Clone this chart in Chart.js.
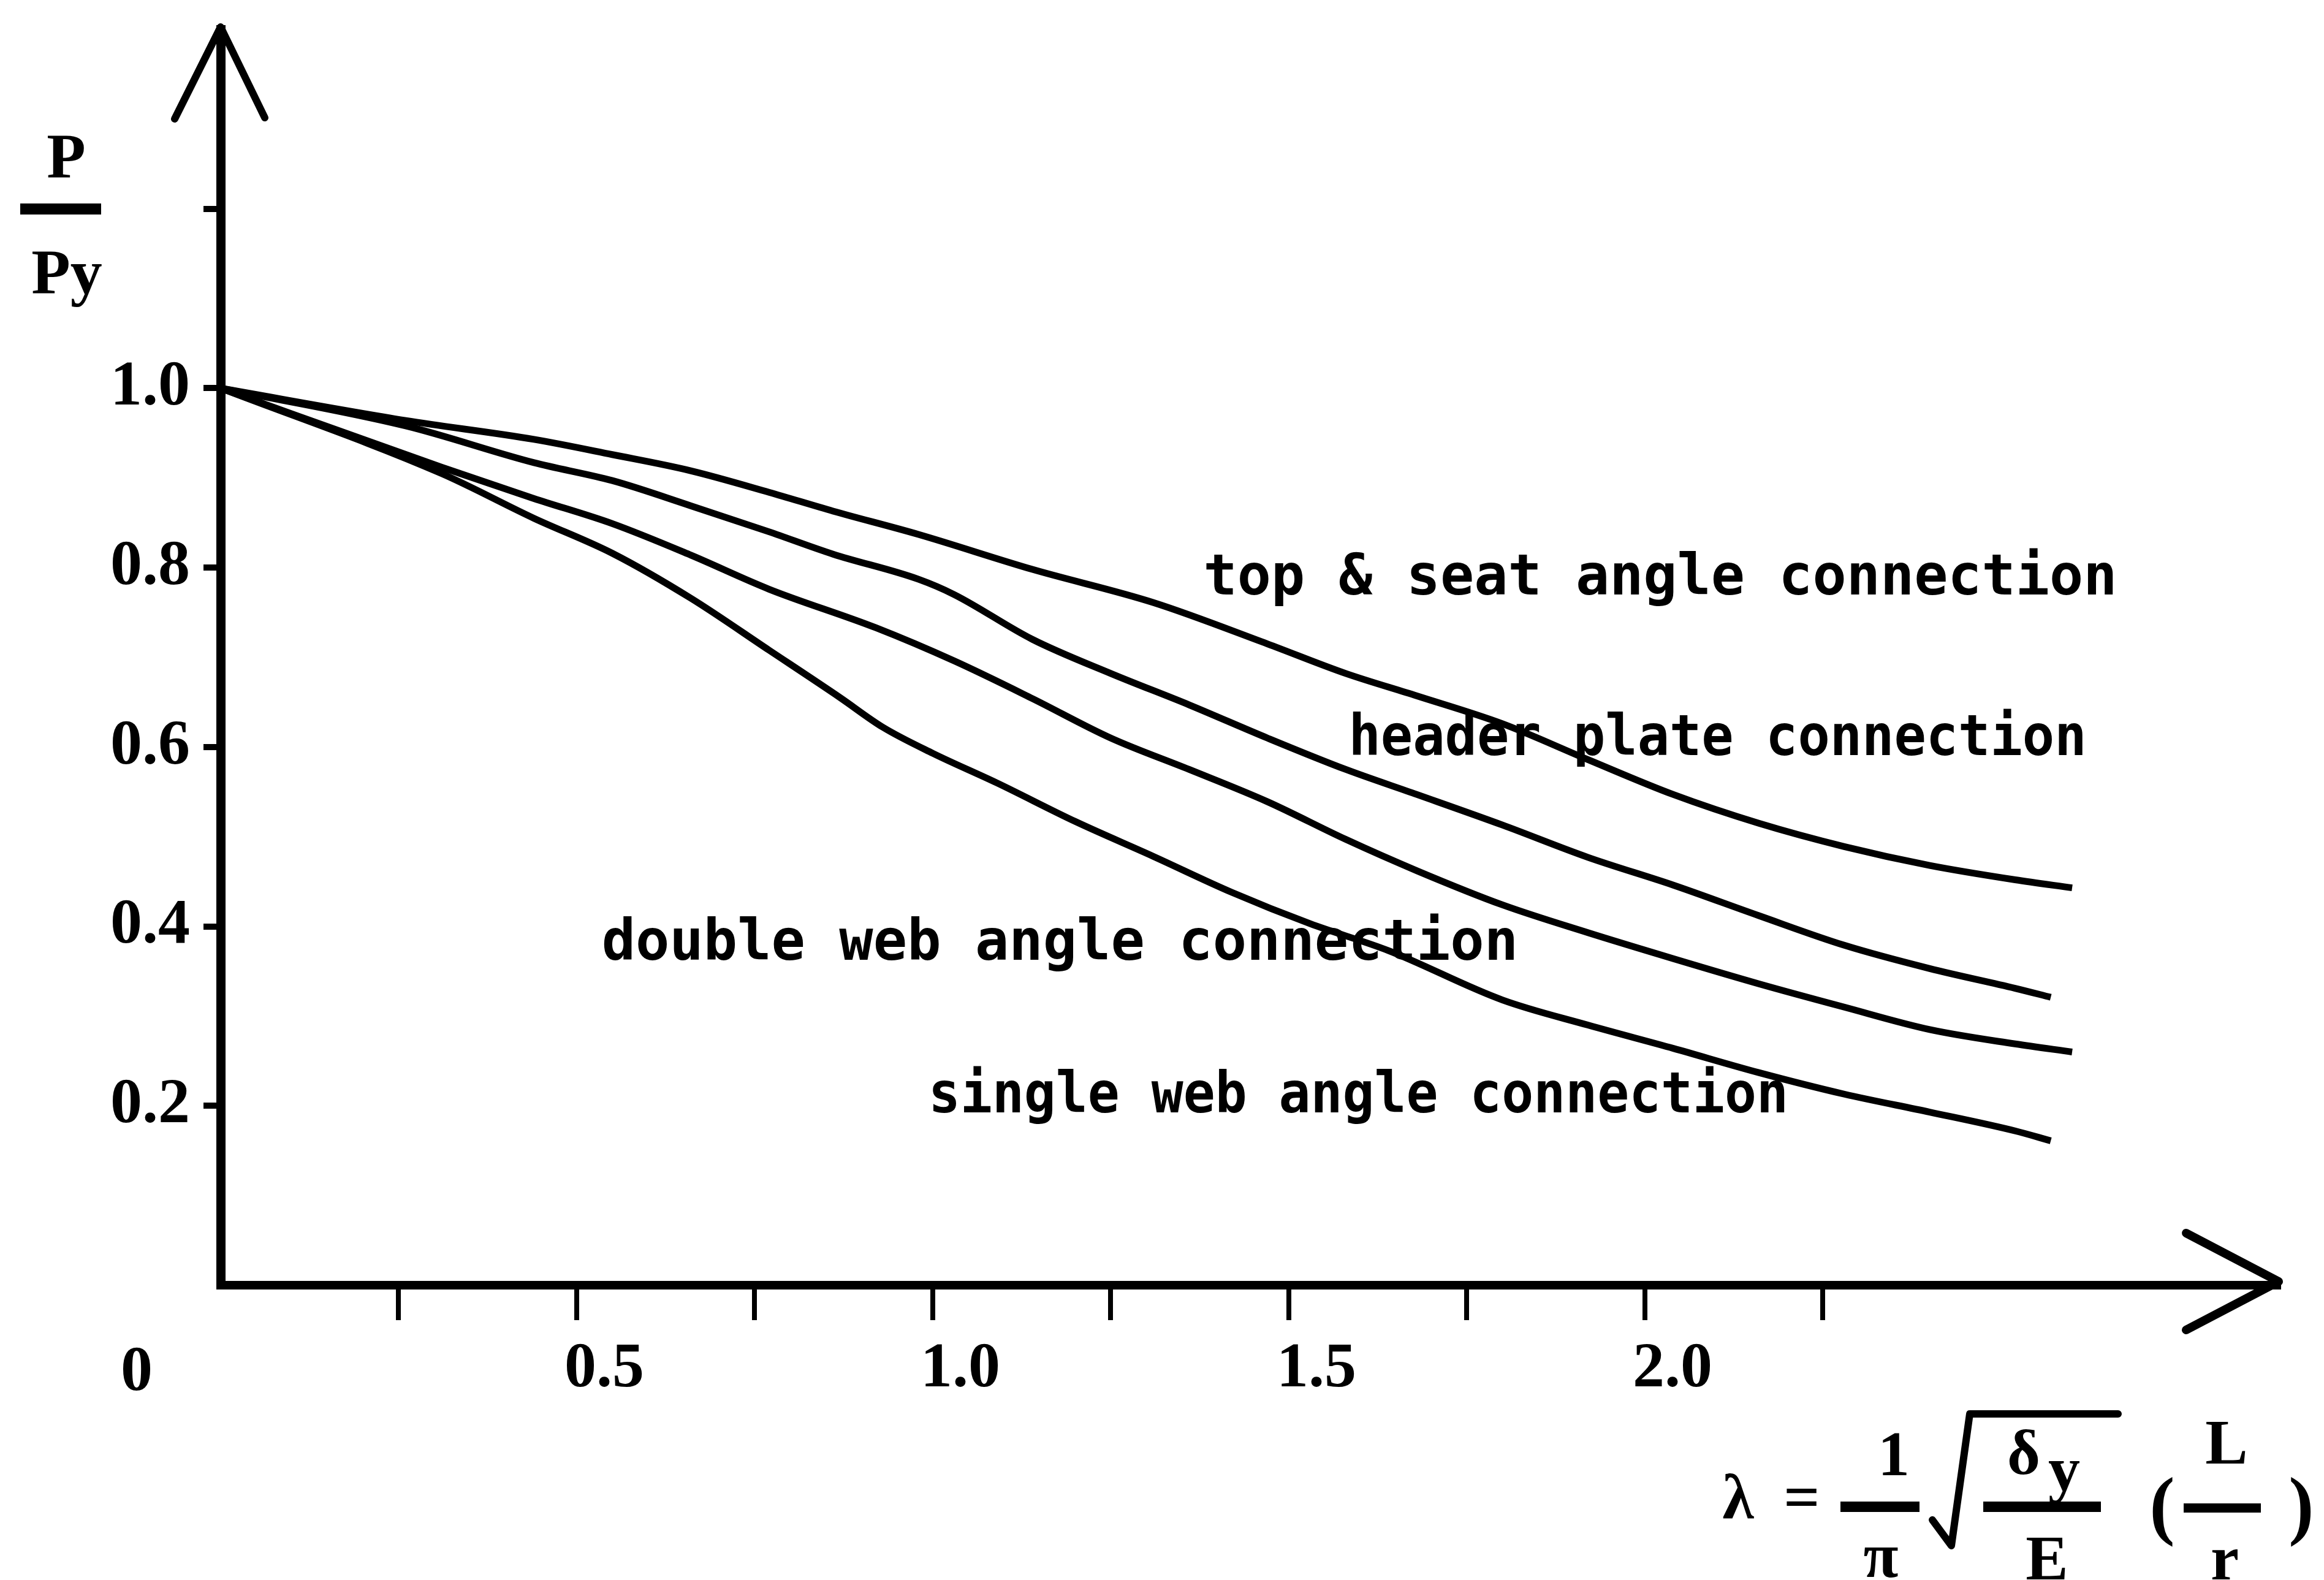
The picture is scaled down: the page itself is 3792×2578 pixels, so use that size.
<!DOCTYPE html>
<html>
<head>
<meta charset="utf-8">
<script src="https://cdn.jsdelivr.net/npm/chart.js@4.4.0/dist/chart.umd.min.js"></script>
<style>
  html, body { margin: 0; padding: 0; background: #fff; }
  #wrap { width: 3792px; height: 2578px; }
</style>
</head>
<body>
<div id="wrap"><canvas id="chart" width="3792" height="2578"></canvas></div>
<script>
(function () {
  // Curve names, written next to the curves on the chart
  const seriesNames = [
    "top & seat angle connection",
    "header plate connection",
    "double web angle connection",
    "single web angle connection"
  ];

  // lambda (x) and P/Py (y)
  const topSeatLambda = [0, 0.26, 0.44, 0.55, 0.66, 0.77, 0.86, 0.98, 1.14, 1.31, 1.47, 1.58, 1.68, 1.80, 1.92, 2.04, 2.16, 2.28, 2.40, 2.52, 2.60];
  const topSeatRatio  = [1.0, 0.964, 0.943, 0.926, 0.908, 0.884, 0.863, 0.837, 0.798, 0.761, 0.715, 0.682, 0.657, 0.626, 0.586, 0.547, 0.515, 0.489, 0.468, 0.452, 0.443];

  const headerLambda = [0, 0.26, 0.44, 0.55, 0.66, 0.77, 0.86, 0.98, 1.03, 1.14, 1.25, 1.36, 1.47, 1.58, 1.68, 1.80, 1.92, 2.04, 2.16, 2.28, 2.40, 2.52, 2.57];
  const headerRatio  = [1.0, 0.958, 0.917, 0.897, 0.869, 0.840, 0.815, 0.787, 0.770, 0.720, 0.682, 0.647, 0.610, 0.575, 0.547, 0.513, 0.477, 0.446, 0.412, 0.379, 0.353, 0.331, 0.321];

  const doubleWebLambda = [0, 0.31, 0.44, 0.55, 0.66, 0.77, 0.92, 1.03, 1.14, 1.25, 1.36, 1.47, 1.58, 1.68, 1.80, 1.92, 2.04, 2.16, 2.28, 2.40, 2.52, 2.60];
  const doubleWebRatio  = [1.0, 0.912, 0.877, 0.849, 0.814, 0.776, 0.733, 0.696, 0.654, 0.610, 0.575, 0.539, 0.497, 0.462, 0.424, 0.393, 0.364, 0.336, 0.310, 0.285, 0.269, 0.260];

  const singleWebLambda = [0, 0.31, 0.44, 0.55, 0.66, 0.77, 0.87, 0.93, 1.00, 1.09, 1.20, 1.31, 1.42, 1.53, 1.64, 1.80, 1.92, 2.04, 2.16, 2.28, 2.40, 2.52, 2.57];
  const singleWebRatio  = [1.0, 0.905, 0.855, 0.816, 0.766, 0.708, 0.655, 0.622, 0.593, 0.560, 0.517, 0.478, 0.438, 0.403, 0.373, 0.318, 0.290, 0.264, 0.237, 0.213, 0.193, 0.172, 0.161];

  // axis ticks
  const xTickValues = [0.25, 0.5, 0.75, 1.0, 1.25, 1.5, 1.75, 2.0, 2.25];
  const xTickLabels = ["", "0.5", "", "1.0", "", "1.5", "", "2.0", ""];
  const yTickValues = [0.2, 0.4, 0.6, 0.8, 1.0, 1.2];
  const yTickLabels = ["0.2", "0.4", "0.6", "0.8", "1.0", ""];

  const INK = "#000";
  const SERIF = "'Liberation Serif', 'DejaVu Serif', serif";
  const MONO = "'DejaVu Sans Mono', 'Liberation Mono', monospace";

  const zip = (xs, ys) => xs.map((x, i) => ({ x, y: ys[i] }));
  const curves = [
    zip(topSeatLambda, topSeatRatio),
    zip(headerLambda, headerRatio),
    zip(doubleWebLambda, doubleWebRatio),
    zip(singleWebLambda, singleWebRatio)
  ];

  // where each curve name sits: left edge and baseline in axis units, width in px
  const nameAnchors = [
    { x: 1.38, y: 0.770, width: 1491 },
    { x: 1.584, y: 0.591, width: 1204 },
    { x: 0.535, y: 0.363, width: 1499 },
    { x: 0.994, y: 0.193, width: 1403 }
  ];

  // arrows, curve names, axis title and the lambda formula
  const annotations = {
    id: "annotations",
    afterDraw(chart) {
      const { ctx, chartArea: a, scales: { x, y } } = chart;
      const L = a.left, R = a.right, T = a.top, B = a.bottom;
      ctx.save();
      ctx.fillStyle = INK;
      ctx.strokeStyle = INK;
      ctx.lineCap = "round";
      ctx.lineJoin = "round";

      ctx.lineWidth = 12;
      ctx.beginPath();
      ctx.moveTo(L - 75, T + 146);
      ctx.lineTo(L, T - 4);
      ctx.lineTo(L + 72, T + 144);
      ctx.stroke();

      ctx.lineWidth = 14;
      ctx.beginPath();
      ctx.moveTo(R - 151, B - 85);
      ctx.lineTo(R, B - 6);
      ctx.lineTo(R - 151, B + 73);
      ctx.stroke();

      ctx.font = "bold 92px " + MONO;
      ctx.textAlign = "left";
      ctx.textBaseline = "alphabetic";
      seriesNames.forEach((name, i) => {
        const n = nameAnchors[i];
        ctx.fillText(name, x.getPixelForValue(n.x), y.getPixelForValue(n.y), n.width);
      });

      ctx.font = "bold 104px " + SERIF;
      ctx.textAlign = "center";
      ctx.fillText("0", L - 137, B + 171);

      // P / Py
      ctx.fillText("P", L - 252, T + 242);
      ctx.fillRect(L - 327, T + 284, 132, 18);
      ctx.fillText("Py", L - 251, T + 431);

      // lambda = 1/pi sqrt(dy/E) (L/r)
      ctx.fillText("\u03bb", R - 882, B + 380);
      ctx.fillText("=", R - 778, B + 380);
      ctx.fillText("1", R - 628, B + 310);
      ctx.fillRect(R - 715, B + 353, 129, 17);
      ctx.fillText("\u03c0", R - 649, B + 476);

      ctx.lineWidth = 12;
      ctx.beginPath();
      ctx.moveTo(R - 565, B + 383);
      ctx.lineTo(R - 534, B + 425);
      ctx.lineTo(R - 504, B + 210);
      ctx.lineTo(R - 262, B + 210);
      ctx.stroke();

      ctx.fillText("\u03b4", R - 416, B + 308);
      ctx.fillText("y", R - 350, B + 335);
      ctx.fillRect(R - 482, B + 353, 192, 17);
      ctx.fillText("E", R - 378, B + 480);

      ctx.fillText("L", R - 85, B + 291);
      ctx.fillRect(R - 155, B + 356, 126, 15);
      ctx.fillText("r", R - 88, B + 480);

      ctx.font = "bold 124px " + SERIF;
      ctx.fillText("(", R - 190, B + 400);
      ctx.fillText(")", R + 37, B + 400);
      ctx.restore();
    }
  };

  new Chart(document.getElementById("chart"), {
    type: "line",
    data: {
      datasets: curves.map((pts, i) => ({
        label: seriesNames[i],
        data: pts,
        borderColor: INK,
        borderWidth: 11,
        pointRadius: 0,
        cubicInterpolationMode: "monotone",
        fill: false
      }))
    },
    options: {
      responsive: false,
      animation: false,
      devicePixelRatio: 1,
      layout: { padding: { left: 0, top: 44, right: 74, bottom: 0 } },
      plugins: {
        legend: { display: false },
        tooltip: { enabled: false }
      },
      scales: {
        x: {
          type: "linear",
          min: 0,
          max: 2.89,
          afterFit: (s) => { s.height = 481; },
          afterBuildTicks: (s) => { s.ticks = xTickValues.map((v) => ({ value: v })); },
          grid: { drawOnChartArea: false, color: INK, lineWidth: 8, tickLength: 57 },
          border: { color: INK, width: 14 },
          ticks: {
            color: INK,
            font: { family: SERIF, size: 104, weight: "bold" },
            padding: 19,
            labelOffset: 45,
            maxRotation: 0,
            autoSkip: false,
            callback: (v, i) => xTickLabels[i]
          }
        },
        y: {
          min: 0,
          max: 1.4,
          afterFit: (s) => { s.width = 360; },
          afterBuildTicks: (s) => { s.ticks = yTickValues.map((v) => ({ value: v })); },
          grid: { drawOnChartArea: false, color: INK, lineWidth: 10, tickLength: 28 },
          border: { color: INK, width: 15 },
          ticks: {
            color: INK,
            font: { family: SERIF, size: 104, weight: "bold", lineHeight: 0.5 },
            padding: 22,
            autoSkip: false,
            callback: (v, i) => yTickLabels[i]
          }
        }
      }
    },
    plugins: [annotations]
  });
})();
</script>
</body>
</html>
